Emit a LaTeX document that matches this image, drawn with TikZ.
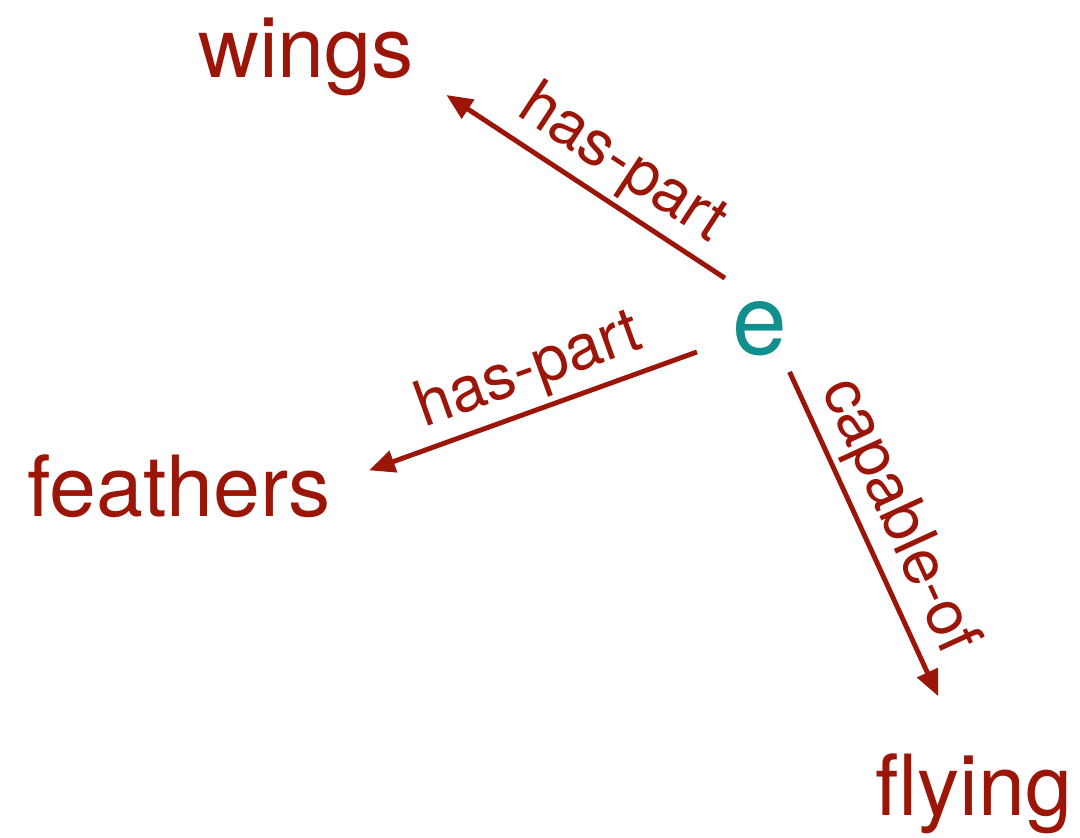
\documentclass[tikz,border=0pt]{standalone}
\usepackage{fontspec}
\setmainfont{TeX Gyre Heros}
\usetikzlibrary{arrows.meta}
\definecolor{darkred}{RGB}{155,22,8}
\definecolor{tealish}{RGB}{18,142,142}

\begin{document}
\begin{tikzpicture}[
    concept/.style={text=darkred, font=\fontsize{24}{28}\selectfont, inner sep=0pt, anchor=base},
    entity/.style={text=tealish, font=\fontsize{28}{32}\selectfont, inner sep=0pt, anchor=base},
    rel/.style={draw=darkred, line width=1.4pt, -{Triangle[length=0.26cm, width=0.22cm]}},
    rellabel/.style={text=darkred, font=\fontsize{18}{22}\selectfont, sloped, above, inner sep=1.5pt}
]
\useasboundingbox (0,0) rectangle (10.8,-8.38);

% Nodes
\node (e) [entity] at (7.60,-3.55) {e};
\node (wings) [concept] at (3.06,-0.78) {wings};
\node (feathers) [concept] at (1.79,-5.17) {feathers};
\node (flying) [concept] at (9.74,-8.15) {flying};

% Arrows
\draw [rel, shorten <=0.42cm, shorten >=1.68cm] (e.north) -- node[rellabel, pos=0.35] {has-part} ([yshift=0.15cm]wings.north);
\draw [rel, shorten <=0.67cm, shorten >=2.02cm] (e.center) -- node[rellabel, pos=0.375] {has-part} ([yshift=-0.2cm]feathers.south);
\draw [rel, shorten <=0.47cm, shorten >=0.62cm] ([xshift=0.1cm]e.center) -- node[rellabel, pos=0.48] {capable-of} ([xshift=-0.1cm]flying.north);

\end{tikzpicture}
\end{document}
